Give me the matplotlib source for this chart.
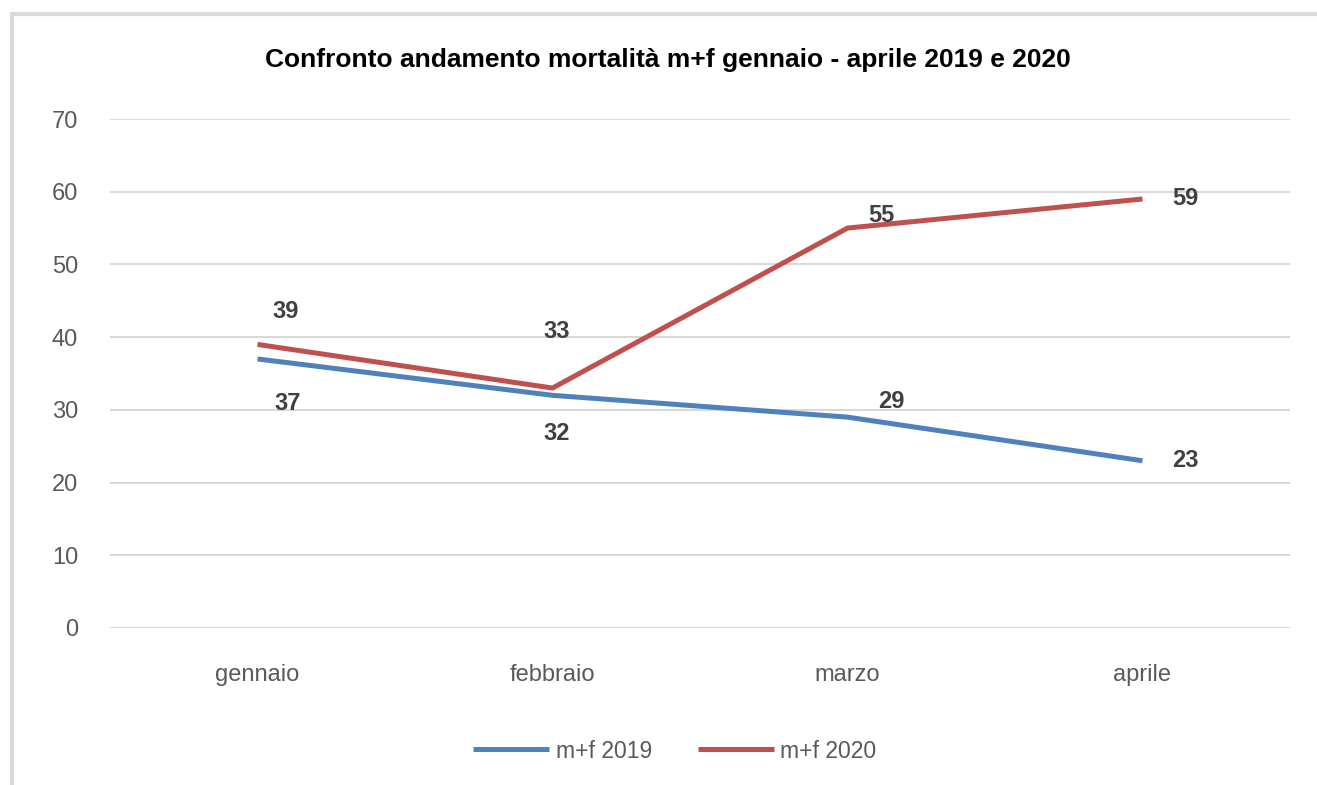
import matplotlib.pyplot as plt
import matplotlib.patches as mpatches

# Dati
mesi = ['gennaio', 'febbraio', 'marzo', 'aprile']
mf_2019 = [37, 32, 29, 23]
mf_2020 = [39, 33, 55, 59]

# offset (pixel) delle etichette come nel grafico Excel
off_2019 = [(30, -45), (4, -38), (44, 16), (43, 0)]
off_2020 = [(28, 33), (4, 57), (34, 13), (43, 0)]

blu = '#4F81BD'
rosso = '#C0504D'
grigio_testo = '#595959'
grigio_griglia = '#D9D9D9'

plt.rcParams['font.family'] = ['Liberation Sans', 'DejaVu Sans']

fig = plt.figure(figsize=(13.17, 7.85), dpi=100)
ax = fig.add_axes([110 / 1317, 1 - 628 / 785, 1180 / 1317, 509 / 785])

# Cornice grigia del grafico
cornice = mpatches.Rectangle((12 / 1317, -0.1), 1.2, 1 - 14 / 785 + 0.1,
                             transform=fig.transFigure, fill=False,
                             edgecolor=grigio_griglia, linewidth=3, zorder=-1)
fig.patches.append(cornice)

x = list(range(len(mesi)))
ax.plot(x, mf_2019, color=blu, linewidth=3.6, label='m+f 2019', solid_capstyle='butt')
ax.plot(x, mf_2020, color=rosso, linewidth=3.6, label='m+f 2020', solid_capstyle='butt')

for xi, v, (dx, dy) in zip(x, mf_2019, off_2019):
    ax.annotate(str(v), (xi, v), xytext=(dx, dy), textcoords='offset pixels',
                ha='center', va='center', fontsize=17, fontweight='bold', color='#404040')
for xi, v, (dx, dy) in zip(x, mf_2020, off_2020):
    ax.annotate(str(v), (xi, v), xytext=(dx, dy), textcoords='offset pixels',
                ha='center', va='center', fontsize=17, fontweight='bold', color='#404040')

ax.set_xlim(-0.5, 3.5)
ax.set_ylim(0, 70)
ax.set_yticks(range(0, 71, 10))
ax.set_xticks(x)
ax.set_xticklabels(mesi)
ax.tick_params(length=0, labelsize=17, colors=grigio_testo)
ax.tick_params(axis='y', pad=23)
ax.tick_params(axis='x', pad=26)
ax.grid(axis='y', color=grigio_griglia, linewidth=1.5)
ax.set_axisbelow(True)
for s in ax.spines.values():
    s.set_visible(False)

fig.text(668 / 1317, 1 - 60 / 785,
         'Confronto andamento mortalità m+f gennaio - aprile 2019 e 2020',
         ha='center', va='center', fontsize=19, fontweight='bold', color='black')

ax.legend(loc='center', bbox_to_anchor=(675 / 1317, 1 - 751 / 785),
          bbox_transform=fig.transFigure, ncol=2, frameon=False,
          fontsize=16.5, labelcolor=grigio_testo, handlelength=3.3,
          handletextpad=0.3, columnspacing=2.0)

fig.savefig('out.png', dpi=100)
